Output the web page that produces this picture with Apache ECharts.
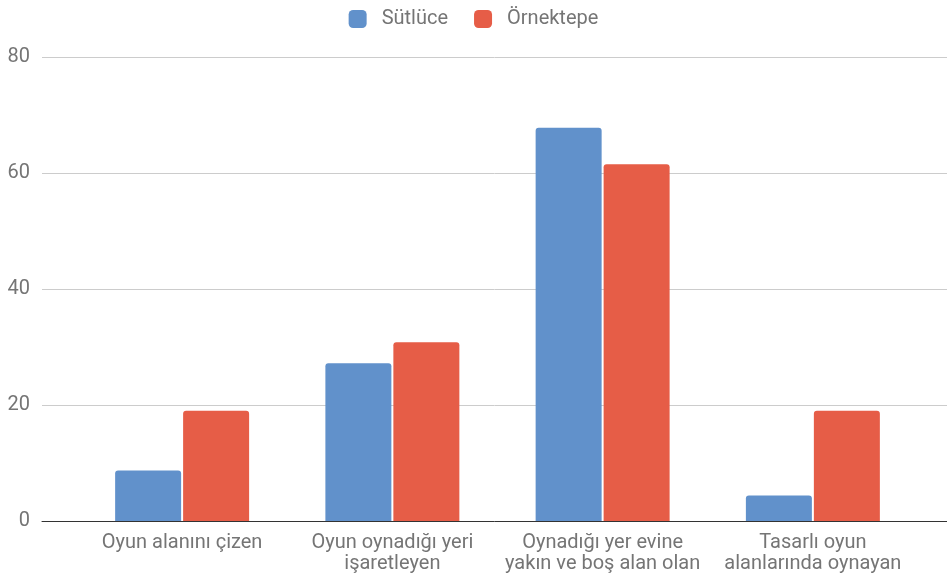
<!DOCTYPE html>
<html>
<head>
    <meta charset="utf-8">
    <script src="https://cdn.jsdelivr.net/npm/echarts@6/dist/echarts.min.js"></script>
    <style>
        html, body { margin: 0; padding: 0; background: #ffffff; }
        #chart { width: 947px; height: 578px; }
    </style>
</head>
<body>
    <div id="chart"></div>
    <script>
        // data
        var categories = ['Oyun alanını çizen', 'Oyun oynadığı yeri\nişaretleyen', 'Oynadığı yer evine\nyakın ve boş alan olan', 'Tasarlı oyun\nalanlarında oynayan'];
        var sutluce = [8.7, 27.2, 67.8, 4.4];
        var ornektepe = [19.0, 30.8, 61.5, 19.0];
        var yTicks = [0, 20, 40, 60, 80];

        var chart = echarts.init(document.getElementById('chart'));
        var font = 'Roboto, "Noto Sans", sans-serif';

        var option = {
            animation: false,
            legend: {
                top: 4,
                left: 'center',
                itemWidth: 18,
                itemHeight: 18,
                itemGap: 26,
                icon: 'roundRect',
                textStyle: { color: '#757575', fontSize: 20, fontFamily: font, padding: [0, 0, 0, 10] },
                data: ['Sütlüce', 'Örnektepe']
            },
            grid: [
                // full width grid for gridlines and baseline
                { left: 42, right: 0, top: 57, bottom: 57 },
                // inner grid for the bars
                { left: 77, right: 29, top: 57, bottom: 57 }
            ],
            xAxis: [
                {
                    gridIndex: 0, type: 'value', min: 0, max: 1,
                    axisLine: { show: true, onZero: false, lineStyle: { color: '#333333', width: 1 } },
                    axisTick: { show: false }, axisLabel: { show: false }, splitLine: { show: false }
                },
                {
                    gridIndex: 1, type: 'category', data: categories,
                    axisLine: { show: false }, axisTick: { show: false },
                    axisLabel: {
                        color: '#757575', fontSize: 20, fontFamily: font,
                        margin: 11, lineHeight: 21, interval: 0
                    }
                }
            ],
            yAxis: [
                {
                    gridIndex: 0, type: 'value', min: 0, max: 80, interval: 20,
                    axisLine: { show: false }, axisTick: { show: false },
                    axisLabel: {
                        color: '#757575', fontSize: 20, fontFamily: font, margin: 12,
                        formatter: function (v) { return yTicks.indexOf(v) >= 0 ? v : ''; }
                    },
                    splitLine: { lineStyle: { color: '#cccccc', width: 1 } }
                },
                {
                    gridIndex: 1, type: 'value', min: 0, max: 80, interval: 20,
                    show: false, splitLine: { show: false }
                }
            ],
            series: [
                {
                    name: 'Sütlüce', type: 'bar', xAxisIndex: 1, yAxisIndex: 1,
                    data: sutluce, barWidth: 66, barGap: '3%',
                    itemStyle: { color: '#6191cb', borderRadius: [3, 3, 0, 0] }
                },
                {
                    name: 'Örnektepe', type: 'bar', xAxisIndex: 1, yAxisIndex: 1,
                    data: ornektepe, barWidth: 66, barGap: '3%',
                    itemStyle: { color: '#e65d47', borderRadius: [3, 3, 0, 0] }
                }
            ]
        };
        chart.setOption(option);
    </script>
</body>
</html>
